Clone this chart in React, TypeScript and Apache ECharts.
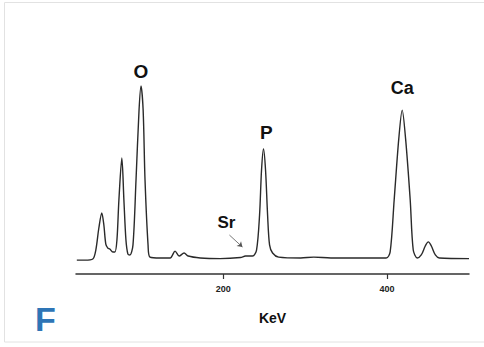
import React, { useEffect, useRef } from "react";
import * as echarts from "echarts";

// Spectrum points: energy (axis units) and counts
const energies = [
  21, 31, 40.5, 44.2, 47.9, 51.5, 54, 56.4, 58.9, 61.3, 65, 67.5, 70, 72.4, 76,
  78.5, 81, 83.4, 85.9, 89.6, 93.3, 97, 99.4, 102, 104.3, 108, 110.4, 122.7,
  135, 141, 146, 152, 157, 171.8, 196, 220.9, 227, 235.6, 240.5, 244.2, 246.6,
  249, 251.5, 254, 256.4, 260.1, 267.5, 294.5, 310.4, 331.3, 398.8, 403.7,
  408.6, 414.2, 418.4, 422.6, 428.2, 431.9, 436.8, 441.7, 446.6, 450.3, 454,
  458.9, 463.8, 500,
];
const counts = [
  6.5, 6.5, 7, 11.2, 21.5, 28.5, 23, 14, 12.1, 11.7, 10.3, 10.3, 15.9, 34.6,
  54.2, 34.6, 15.9, 9.3, 8.9, 13.6, 43.9, 76.6, 87.9, 76.6, 43.9, 13.6, 7.9,
  7.5, 7.5, 10.7, 8.4, 9.8, 8.4, 7.5, 7.2, 7.7, 8.4, 8.4, 11.2, 27.6, 48.6,
  58.4, 48.6, 27.6, 13.6, 9.8, 7.9, 7.5, 7.9, 7.5, 7.5, 10.3, 34.6, 63, 76.6,
  63, 34.6, 11.2, 7.5, 8.9, 13.1, 15, 13.1, 8.9, 7.5, 7.2,
];

// Element labels: text, energy, count position
const labelNames = ["O", "P", "Ca", "Sr"];
const labelX = [99.4, 252.5, 418.4, 203.7];
const labelY = [94.4, 65.9, 87.1, 24];

// Sr arrow: from / to
const arrowFrom = [207.4, 18.2];
const arrowTo = [223.3, 12.6];

const tickValues = [200, 400];
const xMin = 20;
const xMax = 500;

export default function App() {
  const ref = useRef<HTMLDivElement>(null);
  useEffect(() => {
    if (!ref.current) return;
    const chart = echarts.init(ref.current, null, { renderer: "svg" });
    const data = energies.map((e, i) => [e, counts[i]]);
    chart.setOption({
      animation: false,
      backgroundColor: "#ffffff",
      grid: { left: 76, right: 15, top: 60, bottom: 73 },
      xAxis: {
        type: "value",
        min: xMin,
        max: xMax,
        name: "KeV",
        nameLocation: "middle",
        nameGap: 37,
        nameTextStyle: {
          fontFamily: "Liberation Sans",
          fontWeight: "bold",
          fontSize: 14,
          color: "#111",
        },
        axisLine: { show: true, lineStyle: { color: "#333", width: 1.5 } },
        axisTick: {
          show: true,
          customValues: tickValues,
          length: 5,
          lineStyle: { color: "#333", width: 1.2 },
        },
        axisLabel: {
          customValues: tickValues,
          margin: 10,
          fontFamily: "Liberation Sans",
          fontWeight: "bold",
          fontSize: 9,
          color: "#222",
        },
        splitLine: { show: false },
      },
      yAxis: {
        type: "value",
        min: 0,
        max: 100,
        show: false,
      },
      series: [
        {
          type: "line",
          data,
          smooth: 0.3,
          showSymbol: false,
          lineStyle: { color: "#2a2a2a", width: 1.4 },
          markPoint: {
            symbol: "circle",
            symbolSize: 0,
            itemStyle: { color: "transparent" },
            data: labelNames.map((n, i) => ({
              coord: [labelX[i], labelY[i]],
              label: {
                show: true,
                formatter: n,
                position: "inside",
                fontFamily: "Liberation Sans",
                fontWeight: "bold",
                fontSize: n === "Sr" ? 17 : n === "Ca" ? 18 : 19,
                color: "#111",
              },
            })),
          },
          markLine: {
            silent: true,
            symbol: ["none", "arrow"],
            symbolSize: 5,
            label: { show: false },
            lineStyle: { color: "#555", width: 0.8, type: "solid" },
            data: [[{ coord: arrowFrom }, { coord: arrowTo }]],
          },
        },
      ],
      graphic: [
        {
          type: "rect",
          shape: { x: 4.5, y: 2.5, width: 490, height: 339.5 },
          style: { fill: "none", stroke: "#e2e2e2", lineWidth: 1 },
          silent: true,
        },
        {
          type: "text",
          left: 35,
          top: 302,
          style: {
            text: "F",
            fontFamily: "Liberation Sans",
            fontWeight: "bold",
            fontSize: 34,
            fill: "#2e75b6",
          },
        },
      ],
    });
    return () => chart.dispose();
  }, []);
  return (
    <div
      ref={ref}
      style={{ position: "fixed", left: 0, top: 0, width: 484, height: 347 }}
    />
  );
}
